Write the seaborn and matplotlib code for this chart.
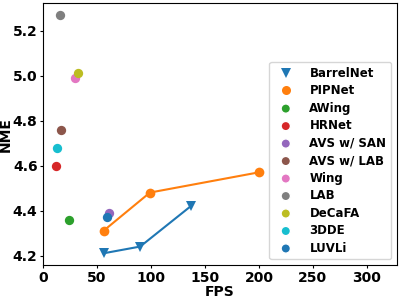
import matplotlib
matplotlib.use("Agg")
import matplotlib.pyplot as plt
import seaborn as sns

# -----------------------------
# data
# -----------------------------
barrel_fps = [56, 90, 137]
barrel_nme = [4.21, 4.24, 4.42]

pip_fps = [56, 99, 200]
pip_nme = [4.31, 4.48, 4.57]

other_names = ["AWing", "HRNet", "AVS w/ SAN", "AVS w/ LAB", "Wing",
               "LAB", "DeCaFA", "3DDE", "LUVLi"]
other_fps = [24, 12, 61, 17, 30, 16, 32, 13, 59]
other_nme = [4.36, 4.60, 4.39, 4.76, 4.99, 5.27, 5.01, 4.68, 4.37]

pal = sns.color_palette("tab10")
other_colors = [pal[2], pal[3], pal[4], pal[5], pal[6], pal[7], pal[8], pal[9], pal[0]]

plt.rcParams['font.family'] = ['DejaVu Sans']
plt.rcParams['font.weight'] = 'bold'

fig, ax = plt.subplots(figsize=(3.99, 2.99), dpi=100)

sns.lineplot(x=barrel_fps, y=barrel_nme, ax=ax, color=pal[0], marker="v",
             markersize=7, markeredgewidth=0, label="BarrelNet")
sns.lineplot(x=pip_fps, y=pip_nme, ax=ax, color=pal[1], marker="o",
             markersize=7, markeredgewidth=0, label="PIPNet")

for name, fx, ny, c in zip(other_names, other_fps, other_nme, other_colors):
    sns.scatterplot(x=[fx], y=[ny], ax=ax, color=c, s=45, linewidth=0, label=name)

ax.set_xlim(0, 328)
ax.set_xlabel("FPS", fontweight="bold", fontsize=10, labelpad=0)
ax.set_ylabel("NME", fontweight="bold", fontsize=10, labelpad=0)
ax.tick_params(labelsize=10, pad=1.5, length=2.5)
for t in ax.get_xticklabels() + ax.get_yticklabels():
    t.set_fontweight("bold")

leg = ax.legend(loc="lower right", prop={"weight": "bold", "size": 8.5},
                handlelength=2.0, handletextpad=1.0, labelspacing=0.38)
for h in leg.legend_handles:
    try:
        h.set_linestyle("")
        h.set_markersize(6.5)
    except Exception:
        pass

plt.subplots_adjust(left=0.108, right=0.995, top=0.99, bottom=0.113)
plt.savefig("out.png", dpi=100)
